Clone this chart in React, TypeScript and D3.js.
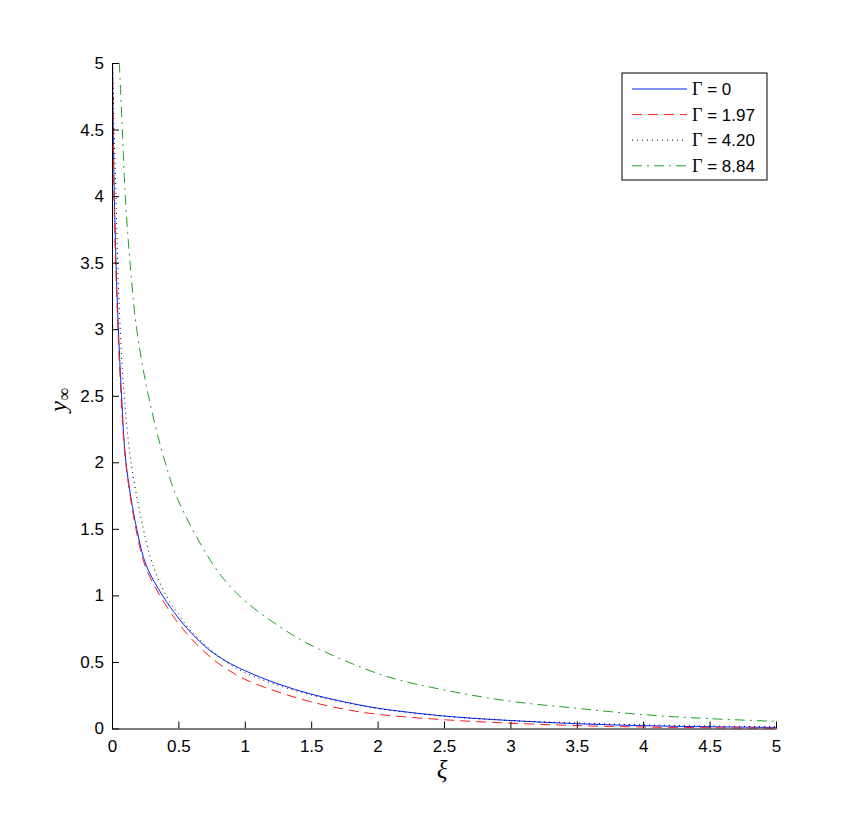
import React, { useEffect, useRef } from "react";
import * as d3 from "d3";

const xTicks = [0, 0.5, 1, 1.5, 2, 2.5, 3, 3.5, 4, 4.5, 5];
const yTicks = [0, 0.5, 1, 1.5, 2, 2.5, 3, 3.5, 4, 4.5, 5];

const gamma0: [number, number][] = [
  [0.004, 5.0], [0.009, 4.5], [0.017, 4.0], [0.03, 3.5], [0.048, 3.0], [0.072, 2.5],
  [0.105, 2.0], [0.186, 1.5], [0.26, 1.22], [0.38, 1.0], [0.5, 0.83], [0.6, 0.715],
  [0.72, 0.6], [0.86, 0.505], [1, 0.435], [1.25, 0.335], [1.5, 0.258], [1.75, 0.2], [2, 0.153],
  [2.5, 0.094], [3, 0.06], [3.5, 0.036], [4, 0.021], [4.5, 0.013], [5, 0.008],
];
const gamma197: [number, number][] = [
  [0.004, 5.0], [0.009, 4.5], [0.015, 4.0], [0.027, 3.5], [0.045, 3.0], [0.068, 2.5],
  [0.103, 2.0], [0.18, 1.5], [0.25, 1.22], [0.36, 1.0], [0.5, 0.79], [0.65, 0.62],
  [0.8, 0.49], [1, 0.37], [1.25, 0.275], [1.5, 0.2], [1.75, 0.145], [2, 0.107],
  [2.5, 0.066], [3, 0.04], [3.5, 0.022], [4, 0.011], [4.5, 0.006], [5, 0.003],
];
const gamma420: [number, number][] = [
  [0.006, 5.0], [0.015, 4.5], [0.03, 4.0], [0.043, 3.5], [0.062, 3.0], [0.092, 2.5],
  [0.143, 2.0], [0.236, 1.5], [0.3, 1.25], [0.407, 1.0], [0.5, 0.86], [0.6, 0.725],
  [0.86, 0.5], [1, 0.42], [1.25, 0.325], [1.5, 0.252], [1.75, 0.195], [2, 0.15],
  [2.5, 0.092], [3, 0.06], [3.5, 0.042], [4, 0.028], [4.5, 0.019], [5, 0.013],
];
const gamma884: [number, number][] = [
  [0.055, 5.0], [0.078, 4.5], [0.1, 4.0], [0.136, 3.5], [0.186, 3.0], [0.274, 2.5],
  [0.4, 2.0], [0.5, 1.71], [0.79, 1.19], [1.0, 0.96], [1.34, 0.715], [1.5, 0.625],
  [2.04, 0.4], [2.5, 0.29], [3, 0.205], [3.5, 0.152], [4, 0.104], [4.5, 0.074], [5, 0.054],
];

const seriesNames = ["0", "1.97", "4.20", "8.84"];
const seriesData = [gamma0, gamma197, gamma420, gamma884];
const seriesColors = ["#0022ff", "#ff1a1a", "#000000", "#22a022"];
const seriesDash = ["none", "10,6", "1,4", "10,5,2,5"];

export default function App() {
  const ref = useRef<SVGSVGElement>(null);

  useEffect(() => {
    const svg = d3.select(ref.current);
    svg.selectAll("*").remove();

    const x = d3.scaleLinear().domain([0, 5]).range([112, 776]);
    const y = d3.scaleLinear().domain([0, 5]).range([728.5, 63]);

    svg.append("rect").attr("width", 858).attr("height", 823).attr("fill", "white");

    svg.append("defs").append("clipPath").attr("id", "plotclip")
      .append("rect").attr("x", 112).attr("y", 62).attr("width", 665).attr("height", 667);

    const line = d3.line<[number, number]>()
      .x(d => x(d[0])).y(d => y(d[1])).curve(d3.curveCatmullRom.alpha(0.5));

    const g = svg.append("g").attr("clip-path", "url(#plotclip)");
    seriesData.forEach((data, i) => {
      g.append("path")
        .attr("d", line(data))
        .attr("fill", "none")
        .attr("stroke", seriesColors[i])
        .attr("stroke-width", 1)
        .attr("stroke-dasharray", seriesDash[i]);
    });

    const fmt = (d: d3.NumberValue) => String(+d);
    const xAxis = svg.append("g").attr("transform", `translate(0,${y(0)})`)
      .call(d3.axisBottom(x).tickValues(xTicks).tickSizeInner(-7).tickSizeOuter(0).tickPadding(11).tickFormat(fmt));
    const yAxis = svg.append("g").attr("transform", `translate(${x(0)},0)`)
      .call(d3.axisLeft(y).tickValues(yTicks).tickSizeInner(-7).tickSizeOuter(0).tickPadding(8).tickFormat(fmt));
    [xAxis, yAxis].forEach(a => {
      a.selectAll("text").attr("font-family", "Liberation Sans, Arial, sans-serif").attr("font-size", 17).attr("fill", "#000");
      a.selectAll("line").attr("stroke", "#000");
      a.select(".domain").attr("stroke", "#000");
    });

    svg.append("text").attr("x", 442).attr("y", 778).attr("text-anchor", "middle")
      .attr("font-family", "Liberation Serif, serif").attr("font-style", "italic").attr("font-size", 25)
      .text("ξ");

    const yl = svg.append("text").attr("transform", "translate(66,400) rotate(-90)")
      .attr("text-anchor", "middle")
      .attr("font-family", "Liberation Serif, serif").attr("font-style", "italic").attr("font-size", 24);
    yl.append("tspan").text("y");
    yl.append("tspan").attr("font-style", "normal").attr("font-size", 18).attr("dy", 4).text("∞");

    const lg = svg.append("g");
    lg.append("rect").attr("x", 622).attr("y", 73).attr("width", 145).attr("height", 107)
      .attr("fill", "white").attr("stroke", "#000").attr("stroke-width", 1);
    seriesNames.forEach((n, i) => {
      const cy = 89 + i * 25.6;
      lg.append("line").attr("x1", 632).attr("x2", 687).attr("y1", cy).attr("y2", cy)
        .attr("stroke", seriesColors[i]).attr("stroke-width", 1).attr("stroke-dasharray", seriesDash[i]);
      const t = lg.append("text").attr("x", 692).attr("y", cy + 6)
        .attr("font-family", "Liberation Sans, Arial, sans-serif").attr("font-size", 17).attr("fill", "#000");
      t.append("tspan").attr("font-family", "Liberation Serif, serif").attr("font-size", 18).text("Γ");
      t.append("tspan").text(" = " + n);
    });
  }, []);

  return (
    <svg ref={ref} width={858} height={823}
      style={{ position: "absolute", left: 0, top: 0, display: "block" }} />
  );
}
